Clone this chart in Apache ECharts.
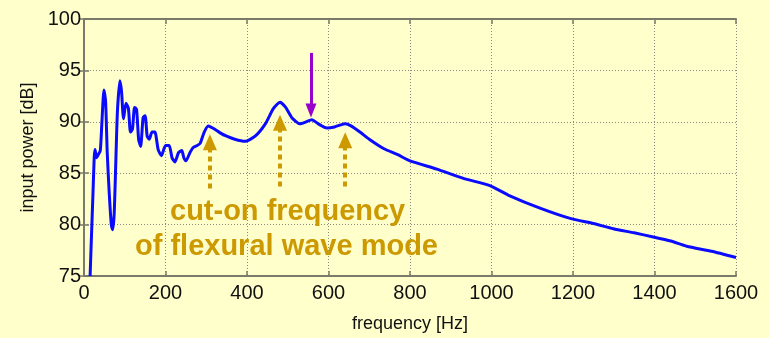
<!DOCTYPE html>
<html>
<head>
<meta charset="utf-8">
<script src="https://cdn.jsdelivr.net/npm/echarts@6/dist/echarts.min.js"></script>
<style>
  html, body { margin: 0; padding: 0; background: #ffffcc; }
  #chart { width: 769px; height: 338px; }
</style>
</head>
<body>
<div id="chart"></div>
<script>
  // frequency [Hz] / input power [dB]
  var freq = [15, 18, 22, 25, 27, 31, 35, 40, 44, 49, 53, 57, 62, 67, 70, 74, 78, 82, 88, 92,
    97, 103, 109, 114, 119, 124, 129, 134, 139, 145, 150, 155, 160, 167, 174, 182, 190, 200, 209, 216,
    223, 232, 240, 245, 250, 260, 268, 278, 285, 295, 305, 320, 335, 350, 370, 395, 420, 445, 465, 481,
    495, 510, 530, 545, 559, 575, 596, 615, 630, 641, 655, 677, 700, 735, 770, 800, 866, 931, 996, 1045,
    1119, 1193, 1250, 1299, 1350, 1397, 1440, 1479, 1540, 1600]
  var power = [75, 78.5, 83, 86.5, 87.3, 86.5, 86.8, 87.2, 90, 93.1, 92, 87, 83, 80, 79.5, 81, 86, 91, 94, 93,
    90.3, 91.8, 91.3, 89, 89.3, 91.4, 91.2, 88.3, 87.6, 90.4, 90.6, 88.6, 88.3, 89, 89, 87.3, 86.7, 87.7, 87.7, 86.5,
    86.1, 87, 87.2, 86.5, 86.2, 87, 87.5, 87.7, 87.9, 89, 89.6, 89.3, 88.9, 88.6, 88.3, 88.1, 88.6, 89.8, 91.3, 91.9,
    91.4, 90.4, 89.8, 90, 90.2, 89.8, 89.4, 89.5, 89.7, 89.8, 89.6, 89, 88.3, 87.4, 86.8, 86.2, 85.4, 84.5, 83.8, 82.8,
    81.6, 80.6, 80.1, 79.6, 79.2, 78.8, 78.4, 77.9, 77.4, 76.8]

  // cut-on arrows (orange) and the marked point (purple)
  var cutOnFreq = [309, 481, 641]
  var cutOnFrom = [83.5, 83.7, 83.7]
  var cutOnTo = [88.0, 89.9, 88.2]
  var markFreq = 557
  var markFrom = 96.7
  var markTo = 91.1

  var xTicks = [0, 1600, 200]
  var yTicks = [75, 100, 5]

  var orange = '#cc9900'
  var axisCol = '#7a7a6a'
  var font = '"Liberation Sans", Arial, sans-serif'

  function convertData () {
    var res = []
    for (var i = 0; i < freq.length; i++) {
      res.push([freq[i], power[i]])
    }
    return res
  }

  function arrowLines () {
    var res = []
    for (var i = 0; i < cutOnFreq.length; i++) {
      res.push([
        {coord: [cutOnFreq[i], cutOnFrom[i]], symbol: 'none',
          lineStyle: {color: orange, width: 4, type: [5, 4]}},
        {coord: [cutOnFreq[i], cutOnTo[i]], symbol: 'triangle', symbolSize: [14, 16]}
      ])
    }
    res.push([
      {coord: [markFreq, markFrom], symbol: 'none',
        lineStyle: {color: '#9900cc', width: 3, type: 'solid'}},
      {coord: [markFreq, markTo], symbol: 'triangle', symbolSize: [11, 14]}
    ])
    return res
  }

  var chart = echarts.init(document.getElementById('chart'))

  var axisLine = {show: true, lineStyle: {color: axisCol, width: 2}}
  var tick = {show: true, inside: true, length: 5, lineStyle: {color: axisCol, width: 1.5}}

  chart.setOption({
    backgroundColor: '#ffffcc',
    animation: false,
    grid: {left: 84, right: 33, top: 19, bottom: 60},
    xAxis: [
      {
        type: 'value',
        min: xTicks[0], max: xTicks[1], interval: xTicks[2],
        name: 'frequency [Hz]',
        nameLocation: 'middle',
        nameGap: 39,
        nameTextStyle: {color: '#111', fontSize: 18, fontFamily: font},
        axisLine: axisLine,
        axisTick: tick,
        axisLabel: {color: '#111', fontSize: 20, fontFamily: font, margin: 7,
          formatter: function (v) { return String(v) }},
        splitLine: {show: true, lineStyle: {color: '#8a8a80', width: 1, type: [1, 2]}}
      },
      {
        type: 'value', position: 'top',
        min: xTicks[0], max: xTicks[1], interval: xTicks[2],
        axisLine: axisLine, axisTick: tick,
        axisLabel: {show: false}, splitLine: {show: false}
      }
    ],
    yAxis: [
      {
        type: 'value',
        min: yTicks[0], max: yTicks[1], interval: yTicks[2],
        name: 'input power [dB]',
        nameLocation: 'middle',
        nameGap: 45,
        nameTextStyle: {color: '#111', fontSize: 18, fontFamily: font},
        axisLine: axisLine,
        axisTick: tick,
        axisLabel: {color: '#111', fontSize: 20, fontFamily: font, margin: 3},
        splitLine: {show: true, lineStyle: {color: '#8a8a80', width: 1, type: [1, 2]}}
      },
      {
        type: 'value', position: 'right',
        min: yTicks[0], max: yTicks[1], interval: yTicks[2],
        axisLine: axisLine, axisTick: tick,
        axisLabel: {show: false}, splitLine: {show: false}
      }
    ],
    graphic: [
      {
        type: 'text', left: 170, top: 197, z: 100,
        style: {text: 'cut-on frequency', fill: orange, font: 'bold 29px ' + font}
      },
      {
        type: 'text', left: 135, top: 232, z: 100,
        style: {text: 'of flexural wave mode', fill: orange, font: 'bold 29px ' + font}
      }
    ],
    series: [
      {
        name: 'input power',
        type: 'line',
        data: convertData(),
        showSymbol: false,
        smooth: 0.2,
        lineStyle: {color: '#0a0aff', width: 3},
        markLine: {
          silent: true,
          animation: false,
          label: {show: false},
          emphasis: {disabled: true},
          data: arrowLines()
        }
      }
    ]
  })
</script>
</body>
</html>
